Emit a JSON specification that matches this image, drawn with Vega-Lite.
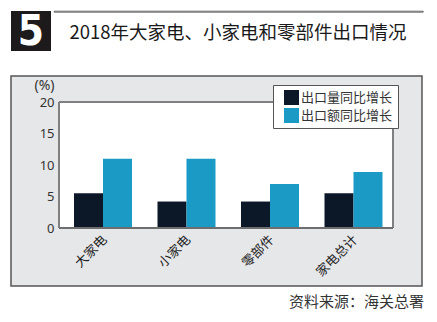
{
  "$schema": "https://vega.github.io/schema/vega-lite/v6.json",
  "padding": {"left": 10, "top": 10, "right": 16, "bottom": 4},
  "autosize": {"type": "pad"},
  "background": "white",
  "config": {
    "view": {"stroke": null},
    "font": "Noto Sans CJK SC"
  },
  "spacing": 22,
  "vconcat": [
    {
      "spacing": 2,
      "hconcat": [
        {
          "width": 40,
          "height": 40,
          "view": {"fill": "#1c1a1b", "stroke": null},
          "data": {"values": [{"n": "5"}]},
          "mark": {"type": "text", "color": "white", "fontSize": 42, "fontWeight": "bold", "font": "DejaVu Sans Condensed", "baseline": "middle", "align": "center", "dy": 1},
          "encoding": {"text": {"field": "n"}}
        },
        {
          "width": 369,
          "height": 1,
          "view": {"stroke": "#333", "strokeWidth": 0.7},
          "data": {"values": [{"t": "title"}]},
          "mark": {"type": "rule", "opacity": 0},
          "encoding": {},
          "title": {
            "text": "2018年大家电、小家电和零部件出口情况",
            "orient": "bottom",
            "anchor": "start",
            "dx": 16,
            "offset": 12,
            "fontSize": 18.5,
            "fontWeight": "normal",
            "color": "#1a1a1a",
            "font": "Noto Sans CJK SC"
          }
        }
      ]
    },
    {
      "width": 411,
      "height": 210,
      "view": {"fill": "#e6e7e9", "stroke": "#555555", "strokeWidth": 1.5},
      "data": {
        "values": [
          {"category": "大家电", "series": "出口量同比增长", "value": 5.5},
          {"category": "大家电", "series": "出口额同比增长", "value": 11.0},
          {"category": "小家电", "series": "出口量同比增长", "value": 4.2},
          {"category": "小家电", "series": "出口额同比增长", "value": 11.0},
          {"category": "零部件", "series": "出口量同比增长", "value": 4.2},
          {"category": "零部件", "series": "出口额同比增长", "value": 7.0},
          {"category": "家电总计", "series": "出口量同比增长", "value": 5.5},
          {"category": "家电总计", "series": "出口额同比增长", "value": 8.9}
        ]
      },
      "title": {
        "text": "资料来源：海关总署",
        "orient": "bottom",
        "anchor": "end",
        "offset": 9,
        "dx": 2,
        "fontSize": 15,
        "fontWeight": "normal",
        "color": "#333333",
        "font": "Noto Sans CJK SC"
      },
      "encoding": {
        "x": {
          "field": "category",
          "type": "nominal",
          "sort": null,
          "scale": {
            "domain": ["大家电", "小家电", "零部件", "家电总计"],
            "paddingInner": 0,
            "paddingOuter": 0.4611,
            "align": 0.6234
          },
          "axis": {
            "orient": "bottom",
            "offset": -58,
            "domain": false,
            "ticks": false,
            "grid": false,
            "labelAngle": -45,
            "labelFontSize": 13,
            "labelPadding": 5,
            "labelColor": "#222222",
            "labelFont": "Noto Sans CJK SC",
            "title": null
          }
        }
      },
      "layer": [
        {
          "mark": {"type": "rect", "fill": "white", "stroke": "white", "strokeWidth": 1},
          "encoding": {
            "y": {"datum": 0, "type": "quantitative", "scale": {"domain": [-9.206, 24.127], "nice": false, "zero": false}},
            "y2": {"datum": 20}
          }
        },
        {
          "mark": {"type": "bar"},
          "encoding": {
            "xOffset": {
              "field": "series",
              "type": "nominal",
              "sort": null,
              "scale": {"domain": ["出口量同比增长", "出口额同比增长"], "paddingInner": 0, "paddingOuter": 0.4397, "align": 0.588}
            },
            "y": {
              "field": "value",
              "type": "quantitative",
              "scale": {"domain": [-9.206, 24.127], "nice": false, "zero": false},
              "axis": {
                "values": [0, 5, 10, 15, 20],
                "offset": -48,
                "domain": false,
                "ticks": false,
                "grid": false,
                "labelFontSize": 13,
                "labelColor": "#333333",
                "labelPadding": 5,
                "labelFont": "Noto Sans",
                "title": "(%)",
                "titleAngle": 0,
                "titleX": -15,
                "titleY": 9,
                "titleAlign": "center",
                "titleBaseline": "middle",
                "titleFontWeight": "normal",
                "titleFontSize": 14,
                "titleColor": "#333333",
                "titleFont": "Noto Sans"
              }
            },
            "y2": {"datum": 0},
            "color": {
              "field": "series",
              "type": "nominal",
              "scale": {"domain": ["出口量同比增长", "出口额同比增长"], "range": ["#0c1828", "#1b9ac6"]},
              "legend": {
                "title": null,
                "orient": "none",
                "legendX": 262,
                "legendY": 74,
                "symbolType": "square",
                "symbolSize": 225,
                "symbolStrokeWidth": 0,
                "symbolOpacity": 1,
                "symbolOffset": 6,
                "labelFontSize": 13,
                "labelColor": "#333333",
                "labelFont": "Noto Sans CJK SC",
                "labelOffset": 2,
                "fillColor": "white",
                "strokeColor": "#555555",
                "padding": 5,
                "rowPadding": 3
              }
            }
          }
        },
        {
          "transform": [{"filter": {"field": "category", "equal": "大家电"}}, {"filter": {"field": "series", "equal": "出口量同比增长"}}],
          "mark": {"type": "rule", "color": "#808080", "strokeWidth": 2},
          "encoding": {
            "x": {"datum": "大家电", "bandPosition": 0},
            "y": {"datum": 0, "type": "quantitative"},
            "y2": {"datum": 20}
          }
        },
        {
          "transform": [{"filter": {"field": "category", "equal": "大家电"}}, {"filter": {"field": "series", "equal": "出口量同比增长"}}],
          "mark": {"type": "rule", "color": "#808080", "strokeWidth": 2},
          "encoding": {
            "x": {"datum": "家电总计", "bandPosition": 1},
            "y": {"datum": 0, "type": "quantitative"},
            "y2": {"datum": 20}
          }
        },
        {
          "transform": [{"filter": {"field": "category", "equal": "大家电"}}, {"filter": {"field": "series", "equal": "出口量同比增长"}}],
          "mark": {"type": "rule", "color": "#808080", "strokeWidth": 2},
          "encoding": {
            "x": {"datum": "大家电", "bandPosition": 0},
            "x2": {"datum": "家电总计", "bandPosition": 1},
            "y": {"datum": 20, "type": "quantitative"}
          }
        },
        {
          "transform": [{"filter": {"field": "category", "equal": "大家电"}}, {"filter": {"field": "series", "equal": "出口量同比增长"}}],
          "mark": {"type": "rule", "color": "#6e6e6e", "strokeWidth": 2},
          "encoding": {
            "x": {"datum": "大家电", "bandPosition": 0},
            "x2": {"datum": "家电总计", "bandPosition": 1},
            "y": {"datum": 0, "type": "quantitative"}
          }
        }
      ]
    }
  ]
}
